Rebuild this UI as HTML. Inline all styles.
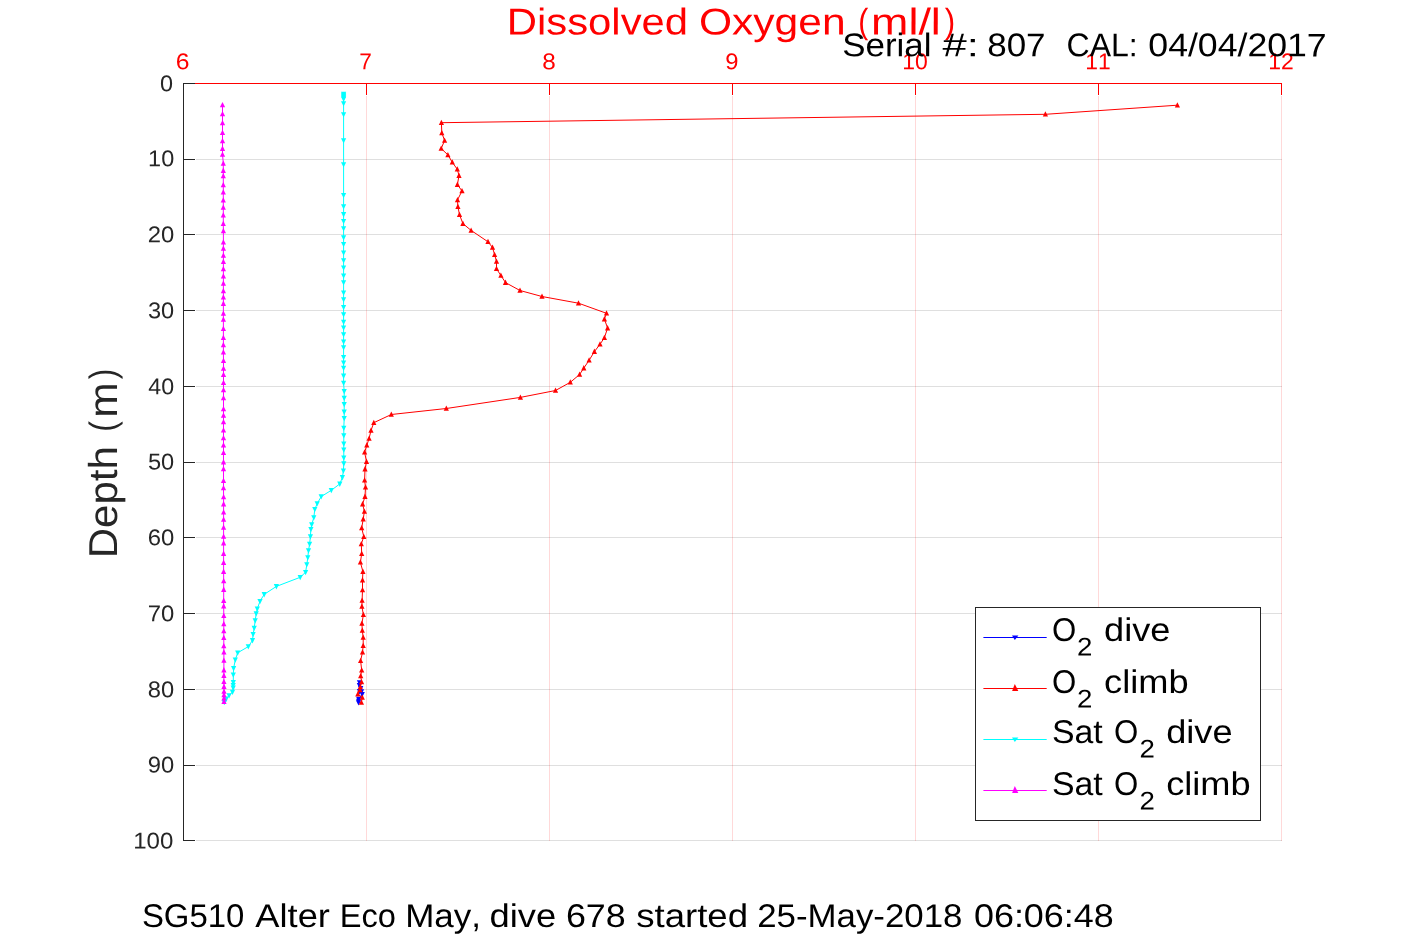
<!DOCTYPE html>
<html><head><meta charset="utf-8"><title>Dissolved Oxygen</title>
<style>
html,body{margin:0;padding:0;background:#fff;}
body{width:1417px;height:945px;overflow:hidden;}
svg{display:block;will-change:transform;}
text{font-family:"Liberation Sans",sans-serif;font-kerning:none;font-variant-ligatures:none;white-space:pre;}
</style></head><body>
<svg width="1417" height="945" viewBox="0 0 1417 945">
<rect width="1417" height="945" fill="#fff"/>
<g stroke="#262626" stroke-opacity="0.15" stroke-width="1" shape-rendering="crispEdges">
<line x1="196" x2="1282" y1="159.5" y2="159.5"/><line x1="196" x2="1282" y1="234.5" y2="234.5"/><line x1="196" x2="1282" y1="310.5" y2="310.5"/><line x1="196" x2="1282" y1="386.5" y2="386.5"/><line x1="196" x2="1282" y1="462.5" y2="462.5"/><line x1="196" x2="1282" y1="537.5" y2="537.5"/><line x1="196" x2="1282" y1="613.5" y2="613.5"/><line x1="196" x2="1282" y1="689.5" y2="689.5"/><line x1="196" x2="1282" y1="765.5" y2="765.5"/><line x1="196" x2="1282" y1="840.5" y2="840.5"/>
</g>
<g stroke="#ff0000" stroke-opacity="0.15" stroke-width="1" shape-rendering="crispEdges">
<line x1="366.5" x2="366.5" y1="96" y2="841"/><line x1="549.5" x2="549.5" y1="96" y2="841"/><line x1="732.5" x2="732.5" y1="96" y2="841"/><line x1="915.5" x2="915.5" y1="96" y2="841"/><line x1="1098.5" x2="1098.5" y1="96" y2="841"/><line x1="1281.5" x2="1281.5" y1="96" y2="841"/>
</g>
<text transform="translate(506.77 34.50) rotate(0.03)" font-size="37.3" fill="#ff0000" textLength="181.33" lengthAdjust="spacingAndGlyphs">Dissolved</text>
<text transform="translate(698.99 34.50) rotate(0.03)" font-size="37.3" fill="#ff0000" textLength="146.58" lengthAdjust="spacingAndGlyphs">Oxygen</text>
<text transform="translate(871.12 34.50) rotate(0.03)" font-size="37.3" fill="#ff0000" textLength="69.67" lengthAdjust="spacingAndGlyphs">ml/l</text>
<text transform="translate(858.33 32.55) rotate(0.03)" font-size="35.0" fill="#ff0000" textLength="10.05" lengthAdjust="spacingAndGlyphs">(</text><text transform="translate(944.72 32.55) rotate(0.03)" font-size="35.0" fill="#ff0000" textLength="10.42" lengthAdjust="spacingAndGlyphs">)</text>
<text transform="translate(175.65 69.15) rotate(0.03)" font-size="22.8" fill="#ff0000" textLength="13.74" lengthAdjust="spacingAndGlyphs">6</text><text transform="translate(359.14 69.15) rotate(0.03)" font-size="22.8" fill="#ff0000" textLength="12.60" lengthAdjust="spacingAndGlyphs">7</text><text transform="translate(542.14 69.15) rotate(0.03)" font-size="22.8" fill="#ff0000" textLength="13.51" lengthAdjust="spacingAndGlyphs">8</text><text transform="translate(725.18 69.15) rotate(0.03)" font-size="22.8" fill="#ff0000" textLength="13.24" lengthAdjust="spacingAndGlyphs">9</text><text transform="translate(902.35 69.15) rotate(0.03)" font-size="22.8" fill="#ff0000" textLength="25.55" lengthAdjust="spacingAndGlyphs">10</text><text transform="translate(1085.26 69.15) rotate(0.03)" font-size="22.8" fill="#ff0000" textLength="25.46" lengthAdjust="spacingAndGlyphs">11</text><text transform="translate(1268.25 69.15) rotate(0.03)" font-size="22.8" fill="#ff0000" textLength="25.50" lengthAdjust="spacingAndGlyphs">12</text>
<text transform="translate(160.08 91.30) rotate(0.03)" font-size="22.8" fill="#262626" textLength="13.03" lengthAdjust="spacingAndGlyphs">0</text><text transform="translate(148.11 166.30) rotate(0.03)" font-size="22.8" fill="#262626" textLength="26.10" lengthAdjust="spacingAndGlyphs">10</text><text transform="translate(147.70 242.30) rotate(0.03)" font-size="22.8" fill="#262626" textLength="26.53" lengthAdjust="spacingAndGlyphs">20</text><text transform="translate(148.00 318.30) rotate(0.03)" font-size="22.8" fill="#262626" textLength="26.22" lengthAdjust="spacingAndGlyphs">30</text><text transform="translate(148.37 394.30) rotate(0.03)" font-size="22.8" fill="#262626" textLength="25.84" lengthAdjust="spacingAndGlyphs">40</text><text transform="translate(147.95 469.50) rotate(0.03)" font-size="22.8" fill="#262626" textLength="26.27" lengthAdjust="spacingAndGlyphs">50</text><text transform="translate(147.69 545.30) rotate(0.03)" font-size="22.8" fill="#262626" textLength="26.54" lengthAdjust="spacingAndGlyphs">60</text><text transform="translate(147.68 621.30) rotate(0.03)" font-size="22.8" fill="#262626" textLength="26.56" lengthAdjust="spacingAndGlyphs">70</text><text transform="translate(147.87 697.30) rotate(0.03)" font-size="22.8" fill="#262626" textLength="26.36" lengthAdjust="spacingAndGlyphs">80</text><text transform="translate(147.79 772.40) rotate(0.03)" font-size="22.8" fill="#262626" textLength="26.44" lengthAdjust="spacingAndGlyphs">90</text><text transform="translate(133.17 848.60) rotate(0.03)" font-size="22.8" fill="#262626" textLength="40.17" lengthAdjust="spacingAndGlyphs">100</text>
<text transform="translate(117.00 558.35) rotate(-89.97)" font-size="40.3" fill="#262626" textLength="112.18" lengthAdjust="spacingAndGlyphs">Depth</text>
<text transform="translate(114.50 431.76) rotate(-89.97)" font-size="36.7" fill="#262626" textLength="10.55" lengthAdjust="spacingAndGlyphs">(</text><text transform="translate(117.00 417.82) rotate(-89.97)" font-size="40.3" fill="#262626" textLength="35.43" lengthAdjust="spacingAndGlyphs">m</text><text transform="translate(114.50 379.19) rotate(-89.97)" font-size="36.7" fill="#262626" textLength="10.55" lengthAdjust="spacingAndGlyphs">)</text>
<g stroke-width="1" shape-rendering="crispEdges">
<line x1="183" x2="1282" y1="83.5" y2="83.5" stroke="#ff0000"/><line x1="366.5" x2="366.5" y1="83" y2="95" stroke="#ff0000"/><line x1="549.5" x2="549.5" y1="83" y2="95" stroke="#ff0000"/><line x1="732.5" x2="732.5" y1="83" y2="95" stroke="#ff0000"/><line x1="915.5" x2="915.5" y1="83" y2="95" stroke="#ff0000"/><line x1="1098.5" x2="1098.5" y1="83" y2="95" stroke="#ff0000"/><line x1="1281.5" x2="1281.5" y1="83" y2="95" stroke="#ff0000"/><line x1="183.5" x2="183.5" y1="83" y2="841" stroke="#262626"/><line x1="183" x2="195" y1="83.5" y2="83.5" stroke="#262626"/><line x1="183" x2="195" y1="159.5" y2="159.5" stroke="#262626"/><line x1="183" x2="195" y1="234.5" y2="234.5" stroke="#262626"/><line x1="183" x2="195" y1="310.5" y2="310.5" stroke="#262626"/><line x1="183" x2="195" y1="386.5" y2="386.5" stroke="#262626"/><line x1="183" x2="195" y1="462.5" y2="462.5" stroke="#262626"/><line x1="183" x2="195" y1="537.5" y2="537.5" stroke="#262626"/><line x1="183" x2="195" y1="613.5" y2="613.5" stroke="#262626"/><line x1="183" x2="195" y1="689.5" y2="689.5" stroke="#262626"/><line x1="183" x2="195" y1="765.5" y2="765.5" stroke="#262626"/><line x1="183" x2="195" y1="840.5" y2="840.5" stroke="#262626"/>
</g>
<path d="M359.5 682.5 L359.4 685.4 L360.7 688.4 L359.5 691.4 L361.5 691.6 L362.2 694.3 L358.7 699.0 L358.6 701.0 L358.5 702.6" fill="none" stroke="#0000ff" stroke-width="1" stroke-linejoin="round"/>
<path d="M359.5 685.5l2.6 -5.3h-5.2z" fill="#0000ff"/><path d="M359.4 688.4l2.6 -5.3h-5.2z" fill="#0000ff"/><path d="M360.7 691.4l2.6 -5.3h-5.2z" fill="#0000ff"/><path d="M359.5 694.4l2.6 -5.3h-5.2z" fill="#0000ff"/><path d="M361.5 694.6l2.6 -5.3h-5.2z" fill="#0000ff"/><path d="M362.2 697.3l2.6 -5.3h-5.2z" fill="#0000ff"/><path d="M358.7 702.0l2.6 -5.3h-5.2z" fill="#0000ff"/><path d="M358.6 704.0l2.6 -5.3h-5.2z" fill="#0000ff"/><path d="M358.5 705.6l2.6 -5.3h-5.2z" fill="#0000ff"/>
<path d="M1177.4 105.2 L1045.4 114.3 L441.4 122.7 L441.8 132.9 L444.6 140.5 L441.2 148.5 L447.9 154.9 L452.3 162.3 L457.3 169.3 L459.0 175.6 L457.4 184.6 L462.0 191.0 L457.5 199.9 L457.9 206.7 L459.5 214.7 L462.9 223.6 L471.1 230.4 L488.0 241.8 L492.5 247.5 L494.6 254.7 L496.5 261.4 L496.5 268.8 L500.9 275.5 L505.5 282.6 L520.0 290.5 L542.0 296.5 L578.5 303.2 L606.5 313.3 L604.4 319.1 L607.6 328.1 L604.4 337.7 L600.0 344.3 L594.4 351.6 L589.1 360.3 L583.8 368.1 L579.6 374.5 L570.3 382.3 L555.5 390.5 L520.4 397.4 L446.3 408.5 L391.3 414.5 L373.8 422.7 L371.0 430.5 L369.1 438.4 L366.8 445.3 L364.6 452.3 L366.5 461.6 L365.0 469.1 L364.6 480.3 L365.5 487.3 L365.0 496.6 L362.6 504.1 L364.4 511.5 L363.2 519.1 L361.7 528.0 L363.8 536.7 L361.3 543.9 L361.7 553.7 L360.4 562.3 L362.9 571.6 L362.5 580.1 L362.5 590.0 L362.1 600.5 L361.9 606.5 L363.4 614.8 L361.9 623.5 L362.3 630.5 L363.2 637.5 L363.2 645.7 L362.5 652.3 L360.6 660.7 L361.7 670.2 L360.7 676.0 L361.6 681.9 L360.3 686.9 L359.9 689.9 L357.8 694.2 L362.3 697.4 L361.4 702.4" fill="none" stroke="#ff0000" stroke-width="1" stroke-linejoin="round"/>
<path d="M1177.4 102.2l2.6 5.3h-5.2z" fill="#ff0000"/><path d="M1045.4 111.3l2.6 5.3h-5.2z" fill="#ff0000"/><path d="M441.4 119.7l2.6 5.3h-5.2z" fill="#ff0000"/><path d="M441.8 129.9l2.6 5.3h-5.2z" fill="#ff0000"/><path d="M444.6 137.5l2.6 5.3h-5.2z" fill="#ff0000"/><path d="M441.2 145.5l2.6 5.3h-5.2z" fill="#ff0000"/><path d="M447.9 151.9l2.6 5.3h-5.2z" fill="#ff0000"/><path d="M452.3 159.3l2.6 5.3h-5.2z" fill="#ff0000"/><path d="M457.3 166.3l2.6 5.3h-5.2z" fill="#ff0000"/><path d="M459.0 172.6l2.6 5.3h-5.2z" fill="#ff0000"/><path d="M457.4 181.6l2.6 5.3h-5.2z" fill="#ff0000"/><path d="M462.0 188.0l2.6 5.3h-5.2z" fill="#ff0000"/><path d="M457.5 196.9l2.6 5.3h-5.2z" fill="#ff0000"/><path d="M457.9 203.7l2.6 5.3h-5.2z" fill="#ff0000"/><path d="M459.5 211.7l2.6 5.3h-5.2z" fill="#ff0000"/><path d="M462.9 220.6l2.6 5.3h-5.2z" fill="#ff0000"/><path d="M471.1 227.4l2.6 5.3h-5.2z" fill="#ff0000"/><path d="M488.0 238.8l2.6 5.3h-5.2z" fill="#ff0000"/><path d="M492.5 244.5l2.6 5.3h-5.2z" fill="#ff0000"/><path d="M494.6 251.7l2.6 5.3h-5.2z" fill="#ff0000"/><path d="M496.5 258.4l2.6 5.3h-5.2z" fill="#ff0000"/><path d="M496.5 265.8l2.6 5.3h-5.2z" fill="#ff0000"/><path d="M500.9 272.5l2.6 5.3h-5.2z" fill="#ff0000"/><path d="M505.5 279.6l2.6 5.3h-5.2z" fill="#ff0000"/><path d="M520.0 287.5l2.6 5.3h-5.2z" fill="#ff0000"/><path d="M542.0 293.5l2.6 5.3h-5.2z" fill="#ff0000"/><path d="M578.5 300.2l2.6 5.3h-5.2z" fill="#ff0000"/><path d="M606.5 310.3l2.6 5.3h-5.2z" fill="#ff0000"/><path d="M604.4 316.1l2.6 5.3h-5.2z" fill="#ff0000"/><path d="M607.6 325.1l2.6 5.3h-5.2z" fill="#ff0000"/><path d="M604.4 334.7l2.6 5.3h-5.2z" fill="#ff0000"/><path d="M600.0 341.3l2.6 5.3h-5.2z" fill="#ff0000"/><path d="M594.4 348.6l2.6 5.3h-5.2z" fill="#ff0000"/><path d="M589.1 357.3l2.6 5.3h-5.2z" fill="#ff0000"/><path d="M583.8 365.1l2.6 5.3h-5.2z" fill="#ff0000"/><path d="M579.6 371.5l2.6 5.3h-5.2z" fill="#ff0000"/><path d="M570.3 379.3l2.6 5.3h-5.2z" fill="#ff0000"/><path d="M555.5 387.5l2.6 5.3h-5.2z" fill="#ff0000"/><path d="M520.4 394.4l2.6 5.3h-5.2z" fill="#ff0000"/><path d="M446.3 405.5l2.6 5.3h-5.2z" fill="#ff0000"/><path d="M391.3 411.5l2.6 5.3h-5.2z" fill="#ff0000"/><path d="M373.8 419.7l2.6 5.3h-5.2z" fill="#ff0000"/><path d="M371.0 427.5l2.6 5.3h-5.2z" fill="#ff0000"/><path d="M369.1 435.4l2.6 5.3h-5.2z" fill="#ff0000"/><path d="M366.8 442.3l2.6 5.3h-5.2z" fill="#ff0000"/><path d="M364.6 449.3l2.6 5.3h-5.2z" fill="#ff0000"/><path d="M366.5 458.6l2.6 5.3h-5.2z" fill="#ff0000"/><path d="M365.0 466.1l2.6 5.3h-5.2z" fill="#ff0000"/><path d="M364.6 477.3l2.6 5.3h-5.2z" fill="#ff0000"/><path d="M365.5 484.3l2.6 5.3h-5.2z" fill="#ff0000"/><path d="M365.0 493.6l2.6 5.3h-5.2z" fill="#ff0000"/><path d="M362.6 501.1l2.6 5.3h-5.2z" fill="#ff0000"/><path d="M364.4 508.5l2.6 5.3h-5.2z" fill="#ff0000"/><path d="M363.2 516.1l2.6 5.3h-5.2z" fill="#ff0000"/><path d="M361.7 525.0l2.6 5.3h-5.2z" fill="#ff0000"/><path d="M363.8 533.7l2.6 5.3h-5.2z" fill="#ff0000"/><path d="M361.3 540.9l2.6 5.3h-5.2z" fill="#ff0000"/><path d="M361.7 550.7l2.6 5.3h-5.2z" fill="#ff0000"/><path d="M360.4 559.3l2.6 5.3h-5.2z" fill="#ff0000"/><path d="M362.9 568.6l2.6 5.3h-5.2z" fill="#ff0000"/><path d="M362.5 577.1l2.6 5.3h-5.2z" fill="#ff0000"/><path d="M362.5 587.0l2.6 5.3h-5.2z" fill="#ff0000"/><path d="M362.1 597.5l2.6 5.3h-5.2z" fill="#ff0000"/><path d="M361.9 603.5l2.6 5.3h-5.2z" fill="#ff0000"/><path d="M363.4 611.8l2.6 5.3h-5.2z" fill="#ff0000"/><path d="M361.9 620.5l2.6 5.3h-5.2z" fill="#ff0000"/><path d="M362.3 627.5l2.6 5.3h-5.2z" fill="#ff0000"/><path d="M363.2 634.5l2.6 5.3h-5.2z" fill="#ff0000"/><path d="M363.2 642.7l2.6 5.3h-5.2z" fill="#ff0000"/><path d="M362.5 649.3l2.6 5.3h-5.2z" fill="#ff0000"/><path d="M360.6 657.7l2.6 5.3h-5.2z" fill="#ff0000"/><path d="M361.7 667.2l2.6 5.3h-5.2z" fill="#ff0000"/><path d="M360.7 673.0l2.6 5.3h-5.2z" fill="#ff0000"/><path d="M361.6 678.9l2.6 5.3h-5.2z" fill="#ff0000"/><path d="M360.3 683.9l2.6 5.3h-5.2z" fill="#ff0000"/><path d="M359.9 686.9l2.6 5.3h-5.2z" fill="#ff0000"/><path d="M357.8 691.2l2.6 5.3h-5.2z" fill="#ff0000"/><path d="M362.3 694.4l2.6 5.3h-5.2z" fill="#ff0000"/><path d="M361.4 699.4l2.6 5.3h-5.2z" fill="#ff0000"/>
<path d="M343.6 94.1 L343.6 95.1 L343.6 96.1 L343.6 97.1 L343.6 98.1 L343.6 99.1 L343.6 103.6 L343.6 114.6 L343.6 140.5 L343.6 164.6 L343.6 195.2 L343.6 206.5 L343.6 214.4 L343.6 221.3 L343.6 228.5 L343.6 237.5 L343.6 244.3 L343.6 252.8 L343.6 260.5 L343.6 267.7 L343.6 275.8 L343.6 282.5 L343.6 292.7 L343.6 299.6 L343.6 307.3 L343.6 314.5 L343.6 322.0 L343.6 327.8 L343.6 334.5 L343.6 341.7 L343.6 347.6 L343.6 357.3 L343.6 362.7 L343.6 368.1 L343.6 375.9 L343.6 383.1 L344.2 391.2 L344.2 398.0 L344.2 404.3 L344.2 411.9 L344.2 418.2 L343.8 428.1 L343.8 435.6 L343.8 443.7 L343.8 449.7 L343.8 457.8 L343.8 463.5 L343.4 470.8 L342.4 477.4 L339.8 483.9 L331.3 490.3 L321.2 496.6 L317.2 503.6 L314.8 509.3 L313.8 517.6 L311.7 524.6 L310.9 529.3 L310.4 536.6 L309.6 544.0 L308.5 550.6 L307.8 557.6 L306.8 564.6 L305.6 572.2 L300.2 577.3 L276.4 586.4 L264.2 594.4 L260.0 601.2 L257.3 608.8 L256.2 613.6 L255.2 620.5 L254.2 628.1 L253.1 634.3 L252.5 640.4 L248.3 646.6 L237.7 652.8 L235.3 659.7 L233.6 668.4 L233.3 674.8 L233.3 682.4 L233.2 685.2 L233.2 687.9 L232.5 692.0 L229.1 695.5 L226.3 698.9 L224.3 702.3" fill="none" stroke="#00ffff" stroke-width="1" stroke-linejoin="round"/>
<path d="M343.6 97.1l2.6 -5.3h-5.2z" fill="#00ffff"/><path d="M343.6 98.1l2.6 -5.3h-5.2z" fill="#00ffff"/><path d="M343.6 99.1l2.6 -5.3h-5.2z" fill="#00ffff"/><path d="M343.6 100.1l2.6 -5.3h-5.2z" fill="#00ffff"/><path d="M343.6 101.1l2.6 -5.3h-5.2z" fill="#00ffff"/><path d="M343.6 102.1l2.6 -5.3h-5.2z" fill="#00ffff"/><path d="M343.6 106.6l2.6 -5.3h-5.2z" fill="#00ffff"/><path d="M343.6 117.6l2.6 -5.3h-5.2z" fill="#00ffff"/><path d="M343.6 143.5l2.6 -5.3h-5.2z" fill="#00ffff"/><path d="M343.6 167.6l2.6 -5.3h-5.2z" fill="#00ffff"/><path d="M343.6 198.2l2.6 -5.3h-5.2z" fill="#00ffff"/><path d="M343.6 209.5l2.6 -5.3h-5.2z" fill="#00ffff"/><path d="M343.6 217.4l2.6 -5.3h-5.2z" fill="#00ffff"/><path d="M343.6 224.3l2.6 -5.3h-5.2z" fill="#00ffff"/><path d="M343.6 231.5l2.6 -5.3h-5.2z" fill="#00ffff"/><path d="M343.6 240.5l2.6 -5.3h-5.2z" fill="#00ffff"/><path d="M343.6 247.3l2.6 -5.3h-5.2z" fill="#00ffff"/><path d="M343.6 255.8l2.6 -5.3h-5.2z" fill="#00ffff"/><path d="M343.6 263.5l2.6 -5.3h-5.2z" fill="#00ffff"/><path d="M343.6 270.7l2.6 -5.3h-5.2z" fill="#00ffff"/><path d="M343.6 278.8l2.6 -5.3h-5.2z" fill="#00ffff"/><path d="M343.6 285.5l2.6 -5.3h-5.2z" fill="#00ffff"/><path d="M343.6 295.7l2.6 -5.3h-5.2z" fill="#00ffff"/><path d="M343.6 302.6l2.6 -5.3h-5.2z" fill="#00ffff"/><path d="M343.6 310.3l2.6 -5.3h-5.2z" fill="#00ffff"/><path d="M343.6 317.5l2.6 -5.3h-5.2z" fill="#00ffff"/><path d="M343.6 325.0l2.6 -5.3h-5.2z" fill="#00ffff"/><path d="M343.6 330.8l2.6 -5.3h-5.2z" fill="#00ffff"/><path d="M343.6 337.5l2.6 -5.3h-5.2z" fill="#00ffff"/><path d="M343.6 344.7l2.6 -5.3h-5.2z" fill="#00ffff"/><path d="M343.6 350.6l2.6 -5.3h-5.2z" fill="#00ffff"/><path d="M343.6 360.3l2.6 -5.3h-5.2z" fill="#00ffff"/><path d="M343.6 365.7l2.6 -5.3h-5.2z" fill="#00ffff"/><path d="M343.6 371.1l2.6 -5.3h-5.2z" fill="#00ffff"/><path d="M343.6 378.9l2.6 -5.3h-5.2z" fill="#00ffff"/><path d="M343.6 386.1l2.6 -5.3h-5.2z" fill="#00ffff"/><path d="M344.2 394.2l2.6 -5.3h-5.2z" fill="#00ffff"/><path d="M344.2 401.0l2.6 -5.3h-5.2z" fill="#00ffff"/><path d="M344.2 407.3l2.6 -5.3h-5.2z" fill="#00ffff"/><path d="M344.2 414.9l2.6 -5.3h-5.2z" fill="#00ffff"/><path d="M344.2 421.2l2.6 -5.3h-5.2z" fill="#00ffff"/><path d="M343.8 431.1l2.6 -5.3h-5.2z" fill="#00ffff"/><path d="M343.8 438.6l2.6 -5.3h-5.2z" fill="#00ffff"/><path d="M343.8 446.7l2.6 -5.3h-5.2z" fill="#00ffff"/><path d="M343.8 452.7l2.6 -5.3h-5.2z" fill="#00ffff"/><path d="M343.8 460.8l2.6 -5.3h-5.2z" fill="#00ffff"/><path d="M343.8 466.5l2.6 -5.3h-5.2z" fill="#00ffff"/><path d="M343.4 473.8l2.6 -5.3h-5.2z" fill="#00ffff"/><path d="M342.4 480.4l2.6 -5.3h-5.2z" fill="#00ffff"/><path d="M339.8 486.9l2.6 -5.3h-5.2z" fill="#00ffff"/><path d="M331.3 493.3l2.6 -5.3h-5.2z" fill="#00ffff"/><path d="M321.2 499.6l2.6 -5.3h-5.2z" fill="#00ffff"/><path d="M317.2 506.6l2.6 -5.3h-5.2z" fill="#00ffff"/><path d="M314.8 512.3l2.6 -5.3h-5.2z" fill="#00ffff"/><path d="M313.8 520.6l2.6 -5.3h-5.2z" fill="#00ffff"/><path d="M311.7 527.6l2.6 -5.3h-5.2z" fill="#00ffff"/><path d="M310.9 532.3l2.6 -5.3h-5.2z" fill="#00ffff"/><path d="M310.4 539.6l2.6 -5.3h-5.2z" fill="#00ffff"/><path d="M309.6 547.0l2.6 -5.3h-5.2z" fill="#00ffff"/><path d="M308.5 553.6l2.6 -5.3h-5.2z" fill="#00ffff"/><path d="M307.8 560.6l2.6 -5.3h-5.2z" fill="#00ffff"/><path d="M306.8 567.6l2.6 -5.3h-5.2z" fill="#00ffff"/><path d="M305.6 575.2l2.6 -5.3h-5.2z" fill="#00ffff"/><path d="M300.2 580.3l2.6 -5.3h-5.2z" fill="#00ffff"/><path d="M276.4 589.4l2.6 -5.3h-5.2z" fill="#00ffff"/><path d="M264.2 597.4l2.6 -5.3h-5.2z" fill="#00ffff"/><path d="M260.0 604.2l2.6 -5.3h-5.2z" fill="#00ffff"/><path d="M257.3 611.8l2.6 -5.3h-5.2z" fill="#00ffff"/><path d="M256.2 616.6l2.6 -5.3h-5.2z" fill="#00ffff"/><path d="M255.2 623.5l2.6 -5.3h-5.2z" fill="#00ffff"/><path d="M254.2 631.1l2.6 -5.3h-5.2z" fill="#00ffff"/><path d="M253.1 637.3l2.6 -5.3h-5.2z" fill="#00ffff"/><path d="M252.5 643.4l2.6 -5.3h-5.2z" fill="#00ffff"/><path d="M248.3 649.6l2.6 -5.3h-5.2z" fill="#00ffff"/><path d="M237.7 655.8l2.6 -5.3h-5.2z" fill="#00ffff"/><path d="M235.3 662.7l2.6 -5.3h-5.2z" fill="#00ffff"/><path d="M233.6 671.4l2.6 -5.3h-5.2z" fill="#00ffff"/><path d="M233.3 677.8l2.6 -5.3h-5.2z" fill="#00ffff"/><path d="M233.3 685.4l2.6 -5.3h-5.2z" fill="#00ffff"/><path d="M233.2 688.2l2.6 -5.3h-5.2z" fill="#00ffff"/><path d="M233.2 690.9l2.6 -5.3h-5.2z" fill="#00ffff"/><path d="M232.5 695.0l2.6 -5.3h-5.2z" fill="#00ffff"/><path d="M229.1 698.5l2.6 -5.3h-5.2z" fill="#00ffff"/><path d="M226.3 701.9l2.6 -5.3h-5.2z" fill="#00ffff"/><path d="M224.3 705.3l2.6 -5.3h-5.2z" fill="#00ffff"/>
<path d="M222.5 104.9 L222.5 113.9 L222.5 122.9 L222.5 132.8 L222.5 140.9 L222.5 148.6 L222.5 154.4 L223.3 163.4 L223.3 170.6 L223.3 176.0 L223.3 185.0 L223.3 192.2 L223.3 200.3 L223.3 207.5 L223.3 215.2 L223.3 223.7 L223.4 230.9 L223.4 242.2 L223.4 248.5 L223.4 255.5 L223.4 261.7 L223.4 269.0 L223.4 276.2 L223.4 283.4 L223.4 291.0 L223.4 297.3 L223.4 303.6 L223.4 313.5 L223.4 319.4 L223.4 328.8 L223.4 337.8 L223.4 345.0 L223.4 352.2 L223.5 360.8 L223.5 368.4 L223.5 374.7 L223.5 382.8 L223.5 390.0 L223.5 398.0 L223.5 408.9 L223.5 415.5 L223.5 421.9 L223.5 430.3 L223.5 438.0 L223.5 445.2 L223.5 452.8 L223.5 462.1 L223.5 469.0 L223.5 480.7 L223.5 487.9 L223.6 496.9 L223.6 504.1 L223.6 512.2 L223.6 519.4 L223.6 527.5 L223.6 536.5 L223.6 543.1 L223.6 553.6 L223.6 562.6 L223.6 571.6 L223.7 581.0 L223.7 589.6 L223.7 600.6 L223.7 606.1 L223.8 615.8 L223.8 624.0 L223.8 630.9 L223.8 637.8 L223.8 646.0 L223.9 652.2 L223.9 660.5 L223.9 670.1 L223.9 675.6 L223.9 681.8 L224.0 686.6 L224.0 691.4 L224.0 694.9 L224.0 698.3 L224.0 701.7" fill="none" stroke="#ff00ff" stroke-width="1" stroke-linejoin="round"/>
<path d="M222.5 101.9l2.6 5.3h-5.2z" fill="#ff00ff"/><path d="M222.5 110.9l2.6 5.3h-5.2z" fill="#ff00ff"/><path d="M222.5 119.9l2.6 5.3h-5.2z" fill="#ff00ff"/><path d="M222.5 129.8l2.6 5.3h-5.2z" fill="#ff00ff"/><path d="M222.5 137.9l2.6 5.3h-5.2z" fill="#ff00ff"/><path d="M222.5 145.6l2.6 5.3h-5.2z" fill="#ff00ff"/><path d="M222.5 151.4l2.6 5.3h-5.2z" fill="#ff00ff"/><path d="M223.3 160.4l2.6 5.3h-5.2z" fill="#ff00ff"/><path d="M223.3 167.6l2.6 5.3h-5.2z" fill="#ff00ff"/><path d="M223.3 173.0l2.6 5.3h-5.2z" fill="#ff00ff"/><path d="M223.3 182.0l2.6 5.3h-5.2z" fill="#ff00ff"/><path d="M223.3 189.2l2.6 5.3h-5.2z" fill="#ff00ff"/><path d="M223.3 197.3l2.6 5.3h-5.2z" fill="#ff00ff"/><path d="M223.3 204.5l2.6 5.3h-5.2z" fill="#ff00ff"/><path d="M223.3 212.2l2.6 5.3h-5.2z" fill="#ff00ff"/><path d="M223.3 220.7l2.6 5.3h-5.2z" fill="#ff00ff"/><path d="M223.4 227.9l2.6 5.3h-5.2z" fill="#ff00ff"/><path d="M223.4 239.2l2.6 5.3h-5.2z" fill="#ff00ff"/><path d="M223.4 245.5l2.6 5.3h-5.2z" fill="#ff00ff"/><path d="M223.4 252.5l2.6 5.3h-5.2z" fill="#ff00ff"/><path d="M223.4 258.7l2.6 5.3h-5.2z" fill="#ff00ff"/><path d="M223.4 266.0l2.6 5.3h-5.2z" fill="#ff00ff"/><path d="M223.4 273.2l2.6 5.3h-5.2z" fill="#ff00ff"/><path d="M223.4 280.4l2.6 5.3h-5.2z" fill="#ff00ff"/><path d="M223.4 288.0l2.6 5.3h-5.2z" fill="#ff00ff"/><path d="M223.4 294.3l2.6 5.3h-5.2z" fill="#ff00ff"/><path d="M223.4 300.6l2.6 5.3h-5.2z" fill="#ff00ff"/><path d="M223.4 310.5l2.6 5.3h-5.2z" fill="#ff00ff"/><path d="M223.4 316.4l2.6 5.3h-5.2z" fill="#ff00ff"/><path d="M223.4 325.8l2.6 5.3h-5.2z" fill="#ff00ff"/><path d="M223.4 334.8l2.6 5.3h-5.2z" fill="#ff00ff"/><path d="M223.4 342.0l2.6 5.3h-5.2z" fill="#ff00ff"/><path d="M223.4 349.2l2.6 5.3h-5.2z" fill="#ff00ff"/><path d="M223.5 357.8l2.6 5.3h-5.2z" fill="#ff00ff"/><path d="M223.5 365.4l2.6 5.3h-5.2z" fill="#ff00ff"/><path d="M223.5 371.7l2.6 5.3h-5.2z" fill="#ff00ff"/><path d="M223.5 379.8l2.6 5.3h-5.2z" fill="#ff00ff"/><path d="M223.5 387.0l2.6 5.3h-5.2z" fill="#ff00ff"/><path d="M223.5 395.0l2.6 5.3h-5.2z" fill="#ff00ff"/><path d="M223.5 405.9l2.6 5.3h-5.2z" fill="#ff00ff"/><path d="M223.5 412.5l2.6 5.3h-5.2z" fill="#ff00ff"/><path d="M223.5 418.9l2.6 5.3h-5.2z" fill="#ff00ff"/><path d="M223.5 427.3l2.6 5.3h-5.2z" fill="#ff00ff"/><path d="M223.5 435.0l2.6 5.3h-5.2z" fill="#ff00ff"/><path d="M223.5 442.2l2.6 5.3h-5.2z" fill="#ff00ff"/><path d="M223.5 449.8l2.6 5.3h-5.2z" fill="#ff00ff"/><path d="M223.5 459.1l2.6 5.3h-5.2z" fill="#ff00ff"/><path d="M223.5 466.0l2.6 5.3h-5.2z" fill="#ff00ff"/><path d="M223.5 477.7l2.6 5.3h-5.2z" fill="#ff00ff"/><path d="M223.5 484.9l2.6 5.3h-5.2z" fill="#ff00ff"/><path d="M223.6 493.9l2.6 5.3h-5.2z" fill="#ff00ff"/><path d="M223.6 501.1l2.6 5.3h-5.2z" fill="#ff00ff"/><path d="M223.6 509.2l2.6 5.3h-5.2z" fill="#ff00ff"/><path d="M223.6 516.4l2.6 5.3h-5.2z" fill="#ff00ff"/><path d="M223.6 524.5l2.6 5.3h-5.2z" fill="#ff00ff"/><path d="M223.6 533.5l2.6 5.3h-5.2z" fill="#ff00ff"/><path d="M223.6 540.1l2.6 5.3h-5.2z" fill="#ff00ff"/><path d="M223.6 550.6l2.6 5.3h-5.2z" fill="#ff00ff"/><path d="M223.6 559.6l2.6 5.3h-5.2z" fill="#ff00ff"/><path d="M223.6 568.6l2.6 5.3h-5.2z" fill="#ff00ff"/><path d="M223.7 578.0l2.6 5.3h-5.2z" fill="#ff00ff"/><path d="M223.7 586.6l2.6 5.3h-5.2z" fill="#ff00ff"/><path d="M223.7 597.6l2.6 5.3h-5.2z" fill="#ff00ff"/><path d="M223.7 603.1l2.6 5.3h-5.2z" fill="#ff00ff"/><path d="M223.8 612.8l2.6 5.3h-5.2z" fill="#ff00ff"/><path d="M223.8 621.0l2.6 5.3h-5.2z" fill="#ff00ff"/><path d="M223.8 627.9l2.6 5.3h-5.2z" fill="#ff00ff"/><path d="M223.8 634.8l2.6 5.3h-5.2z" fill="#ff00ff"/><path d="M223.8 643.0l2.6 5.3h-5.2z" fill="#ff00ff"/><path d="M223.9 649.2l2.6 5.3h-5.2z" fill="#ff00ff"/><path d="M223.9 657.5l2.6 5.3h-5.2z" fill="#ff00ff"/><path d="M223.9 667.1l2.6 5.3h-5.2z" fill="#ff00ff"/><path d="M223.9 672.6l2.6 5.3h-5.2z" fill="#ff00ff"/><path d="M223.9 678.8l2.6 5.3h-5.2z" fill="#ff00ff"/><path d="M224.0 683.6l2.6 5.3h-5.2z" fill="#ff00ff"/><path d="M224.0 688.4l2.6 5.3h-5.2z" fill="#ff00ff"/><path d="M224.0 691.9l2.6 5.3h-5.2z" fill="#ff00ff"/><path d="M224.0 695.3l2.6 5.3h-5.2z" fill="#ff00ff"/><path d="M224.0 698.7l2.6 5.3h-5.2z" fill="#ff00ff"/>
<text transform="translate(842.22 56.30) rotate(0.03)" font-size="32.8" fill="#000000" textLength="89.22" lengthAdjust="spacingAndGlyphs">Serial</text>
<text transform="translate(942.61 56.30) rotate(0.03)" font-size="32.8" fill="#000000" textLength="36.37" lengthAdjust="spacingAndGlyphs">#:</text>
<text transform="translate(987.18 56.30) rotate(0.03)" font-size="32.8" fill="#000000" textLength="58.38" lengthAdjust="spacingAndGlyphs">807</text>
<text transform="translate(1066.57 56.30) rotate(0.03)" font-size="32.8" fill="#000000" textLength="71.15" lengthAdjust="spacingAndGlyphs">CAL:</text>
<text transform="translate(1148.31 56.30) rotate(0.03)" font-size="32.8" fill="#000000" textLength="178.38" lengthAdjust="spacingAndGlyphs">04/04/2017</text>
<text transform="translate(141.91 927.00) rotate(0.03)" font-size="32.8" fill="#000000" textLength="102.38" lengthAdjust="spacingAndGlyphs">SG510</text>
<text transform="translate(255.33 927.00) rotate(0.03)" font-size="32.8" fill="#000000" textLength="74.57" lengthAdjust="spacingAndGlyphs">Alter</text>
<text transform="translate(339.83 927.00) rotate(0.03)" font-size="32.8" fill="#000000" textLength="56.14" lengthAdjust="spacingAndGlyphs">Eco</text>
<text transform="translate(405.13 927.00) rotate(0.03)" font-size="32.8" fill="#000000" textLength="75.81" lengthAdjust="spacingAndGlyphs">May,</text>
<text transform="translate(489.47 927.00) rotate(0.03)" font-size="32.8" fill="#000000" textLength="66.64" lengthAdjust="spacingAndGlyphs">dive</text>
<text transform="translate(565.88 927.00) rotate(0.03)" font-size="32.8" fill="#000000" textLength="59.78" lengthAdjust="spacingAndGlyphs">678</text>
<text transform="translate(636.18 927.00) rotate(0.03)" font-size="32.8" fill="#000000" textLength="111.88" lengthAdjust="spacingAndGlyphs">started</text>
<text transform="translate(757.15 927.00) rotate(0.03)" font-size="32.8" fill="#000000" textLength="205.27" lengthAdjust="spacingAndGlyphs">25-May-2018</text>
<text transform="translate(974.00 927.00) rotate(0.03)" font-size="32.8" fill="#000000" textLength="139.66" lengthAdjust="spacingAndGlyphs">06:06:48</text>
<rect x="975.5" y="607.5" width="285" height="213" fill="#fff" stroke="#262626" stroke-width="1" shape-rendering="crispEdges"/>
<line x1="983.4" x2="1046.7" y1="637.5" y2="637.5" stroke="#0000ff" stroke-width="1"/><path d="M1014.8 640.10L1018.4 635.40H1012.0z" fill="#0000ff"/><text transform="translate(1052.02 641.00) rotate(0.03)" font-size="32.8" fill="#000000" textLength="24.27" lengthAdjust="spacingAndGlyphs">O</text><text transform="translate(1077.01 655.60) rotate(0.03)" font-size="25.6" fill="#000000" textLength="15.38" lengthAdjust="spacingAndGlyphs">2</text><text transform="translate(1104.08 641.00) rotate(0.03)" font-size="32.8" fill="#000000" textLength="66.32" lengthAdjust="spacingAndGlyphs">dive</text>
<line x1="983.4" x2="1046.7" y1="688.5" y2="688.5" stroke="#ff0000" stroke-width="1"/><path d="M1014.8 684.05L1018.3 690.90H1012.1z" fill="#ff0000"/><text transform="translate(1052.02 693.00) rotate(0.03)" font-size="32.8" fill="#000000" textLength="24.27" lengthAdjust="spacingAndGlyphs">O</text><text transform="translate(1077.01 707.60) rotate(0.03)" font-size="25.6" fill="#000000" textLength="15.38" lengthAdjust="spacingAndGlyphs">2</text><text transform="translate(1104.06 693.00) rotate(0.03)" font-size="32.8" fill="#000000" textLength="84.56" lengthAdjust="spacingAndGlyphs">climb</text>
<line x1="983.4" x2="1046.7" y1="739.5" y2="739.5" stroke="#00ffff" stroke-width="1"/><path d="M1014.8 742.10L1018.4 737.40H1012.0z" fill="#00ffff"/><text transform="translate(1051.96 743.00) rotate(0.03)" font-size="32.8" fill="#000000" textLength="50.78" lengthAdjust="spacingAndGlyphs">Sat</text><text transform="translate(1114.12 743.00) rotate(0.03)" font-size="32.8" fill="#000000" textLength="24.27" lengthAdjust="spacingAndGlyphs">O</text><text transform="translate(1139.61 757.60) rotate(0.03)" font-size="25.6" fill="#000000" textLength="15.38" lengthAdjust="spacingAndGlyphs">2</text><text transform="translate(1166.18 743.00) rotate(0.03)" font-size="32.8" fill="#000000" textLength="66.32" lengthAdjust="spacingAndGlyphs">dive</text>
<line x1="983.4" x2="1046.7" y1="790.5" y2="790.5" stroke="#ff00ff" stroke-width="1"/><path d="M1014.8 786.05L1018.3 792.90H1012.1z" fill="#ff00ff"/><text transform="translate(1051.96 795.00) rotate(0.03)" font-size="32.8" fill="#000000" textLength="50.78" lengthAdjust="spacingAndGlyphs">Sat</text><text transform="translate(1114.12 795.00) rotate(0.03)" font-size="32.8" fill="#000000" textLength="24.27" lengthAdjust="spacingAndGlyphs">O</text><text transform="translate(1139.61 809.60) rotate(0.03)" font-size="25.6" fill="#000000" textLength="15.38" lengthAdjust="spacingAndGlyphs">2</text><text transform="translate(1166.16 795.00) rotate(0.03)" font-size="32.8" fill="#000000" textLength="84.46" lengthAdjust="spacingAndGlyphs">climb</text>
</svg>
</body></html>
